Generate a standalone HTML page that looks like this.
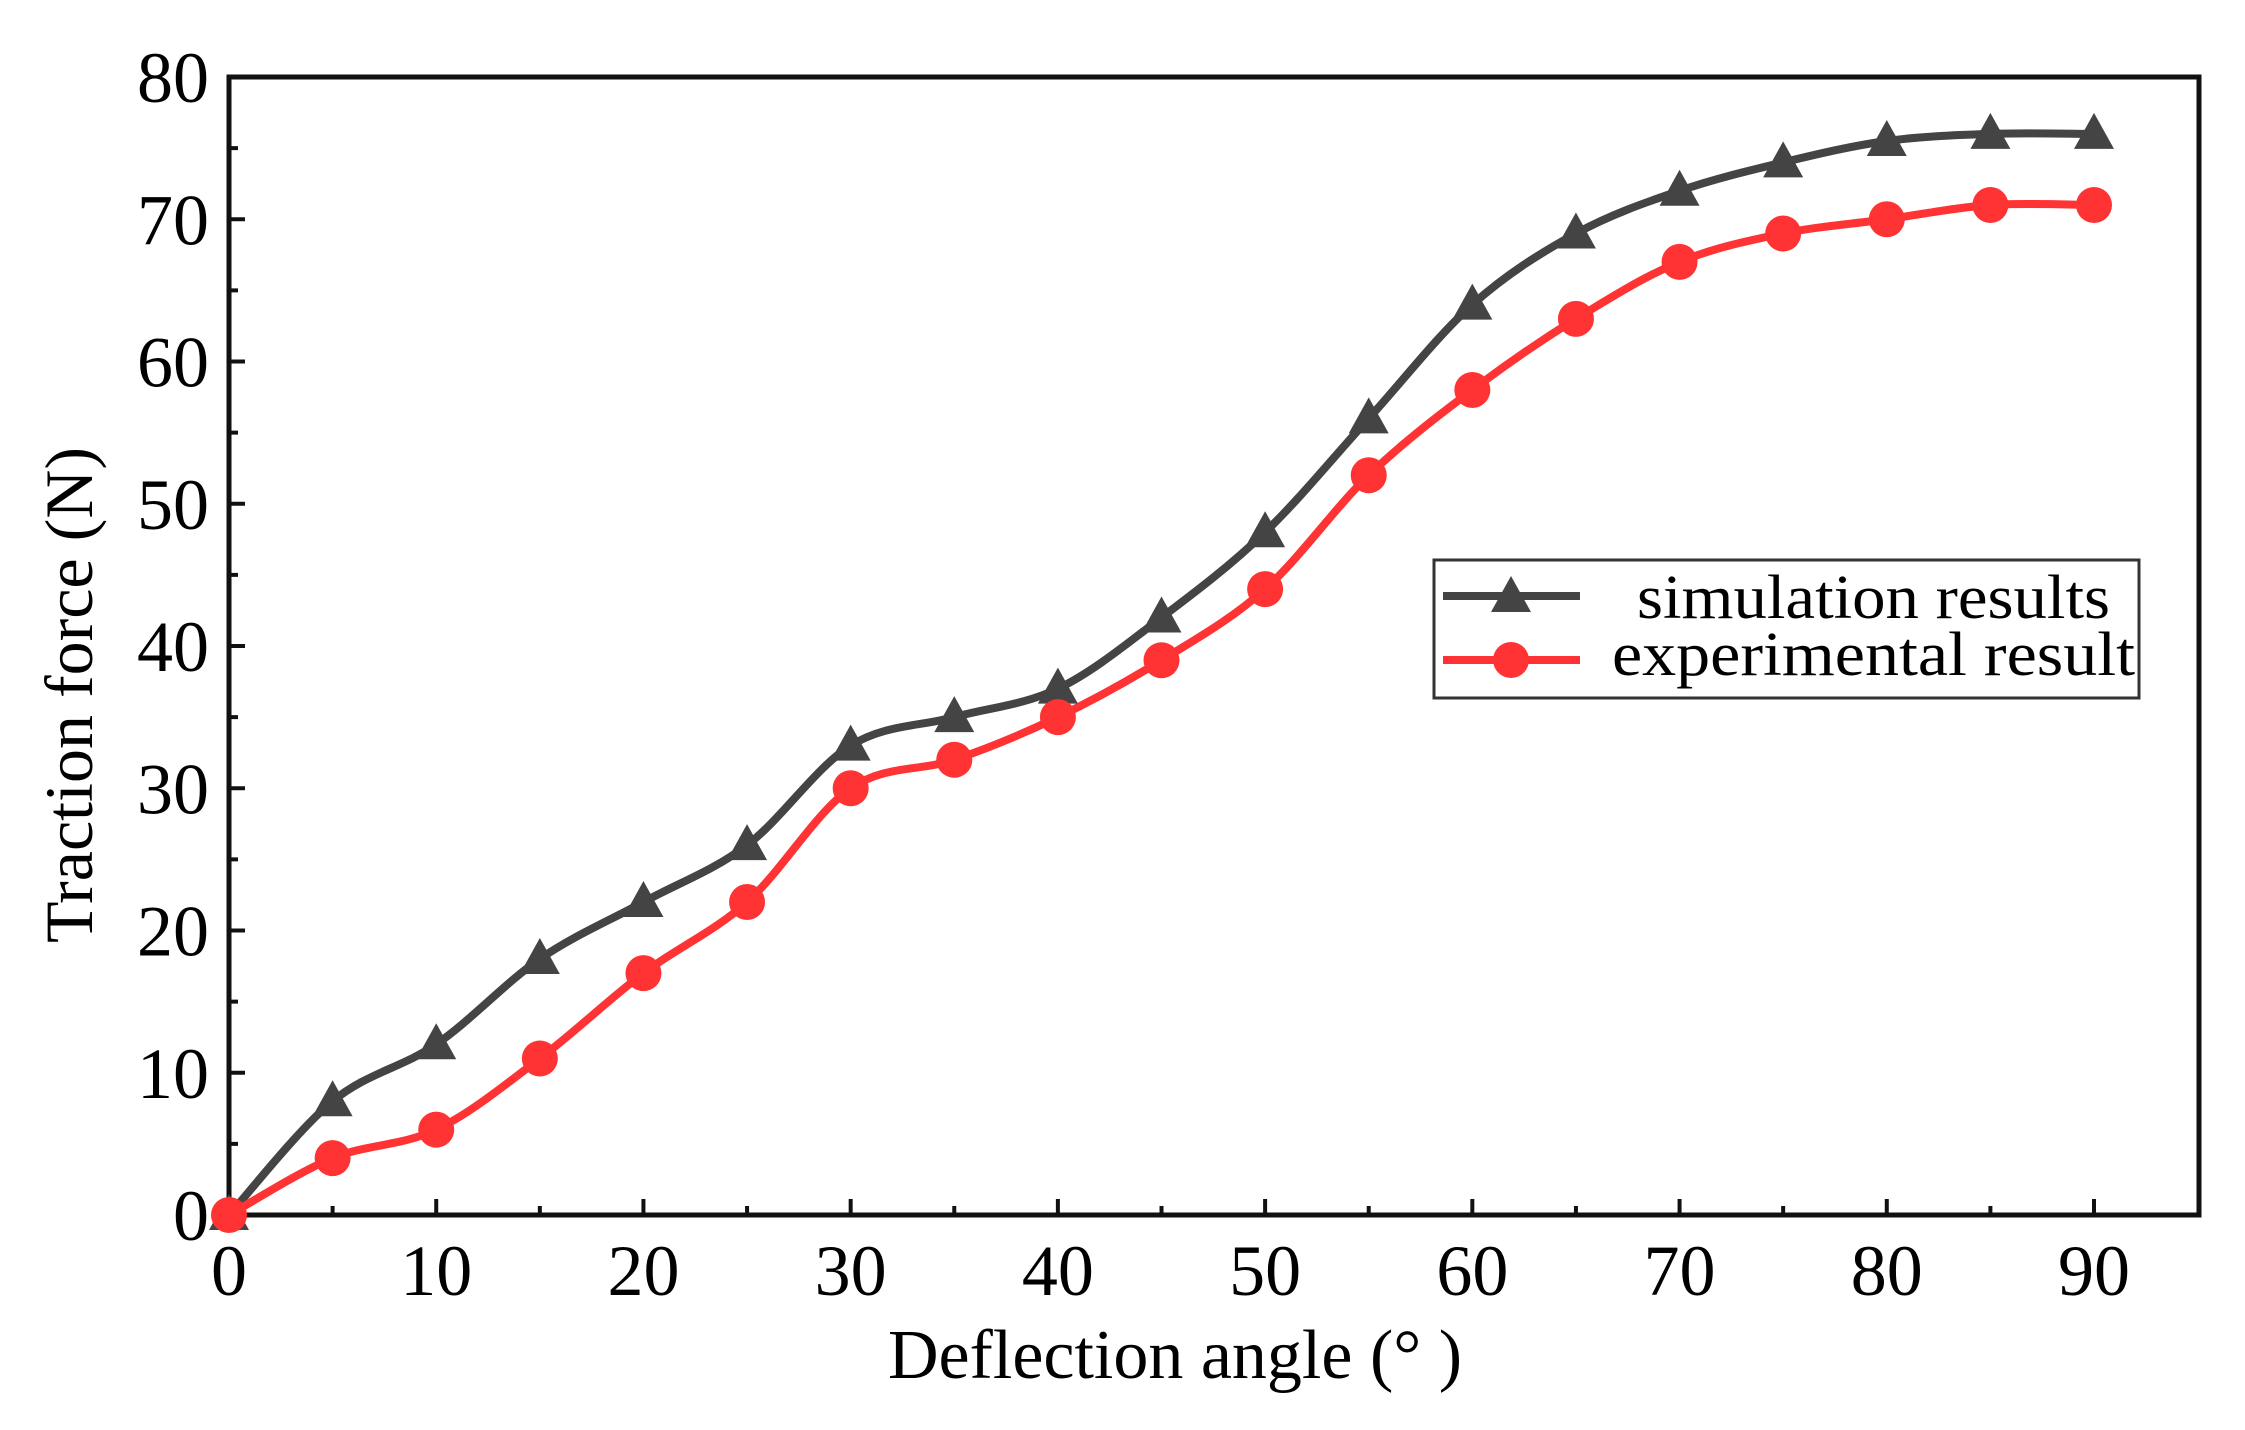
<!DOCTYPE html>
<html><head><meta charset="utf-8"><style>
body{margin:0;background:#fff}
svg{display:block}
text{font-family:"Liberation Serif",serif;fill:#000}
</style></head><body>
<svg id="chart" width="2245" height="1430" viewBox="0 0 2245 1430" xmlns="http://www.w3.org/2000/svg">
<g id="axes"></g>
<g id="series"></g>
<g>
<rect x="1434" y="560" width="705" height="138" fill="#fff" stroke="#333" stroke-width="3"/>
<line x1="1443" y1="596" x2="1580" y2="596" stroke="#444" stroke-width="8"/>
<polygon points="1511,576 1531,612 1491,612" fill="#444"/>
<text x="1637" y="618" font-size="62" textLength="473" lengthAdjust="spacingAndGlyphs">simulation results</text>
<line x1="1443" y1="660" x2="1580" y2="660" stroke="#ff3333" stroke-width="8"/>
<circle cx="1511" cy="660" r="18" fill="#ff3333"/>
<text x="1612" y="675" font-size="62" textLength="523" lengthAdjust="spacingAndGlyphs">experimental result</text>
</g>
<text x="1175" y="1378" font-size="70" text-anchor="middle">Deflection angle (°  )</text>
<text transform="translate(92,695) rotate(-90)" font-size="68" text-anchor="middle">Traction force (N)</text>
</svg>
<script>
const angles=[0,5,10,15,20,25,30,35,40,45,50,55,60,65,70,75,80,85,90];
const simulation=[0,8,12,18,22,26,33,35,37,42,48,56,64,69,72,74,75.5,76,76];
const experimental=[0,4,6,11,17,22,30,32,35,39,44,52,58,63,67,69,70,71,71];
const xTicks=[0,10,20,30,40,50,60,70,80,90];
const yTicks=[0,10,20,30,40,50,60,70,80];
const L=229,R=2199,T=77,B=1215;
const X0=229,X90=2094;
function sx(v){return X0+(X90-X0)*v/90;}
function sy(v){return B-(B-T)*v/80;}
const NS="http://www.w3.org/2000/svg";
function mk(tag,attrs,parent){const e=document.createElementNS(NS,tag);for(const k in attrs)e.setAttribute(k,attrs[k]);parent.appendChild(e);return e;}
const axes=document.getElementById('axes');
const frame=mk('rect',{x:L,y:T,width:R-L,height:B-T,fill:'none',stroke:'#111','stroke-width':5},axes);


for(let v=0;v<=90;v+=5){const maj=v%10===0;const t=mk('line',{x1:sx(v),x2:sx(v),y1:B,y2:B-(maj?16:9),stroke:'#111','stroke-width':4},axes);

}
for(let v=0;v<=80;v+=5){const maj=v%10===0;const t=mk('line',{x1:L,x2:L+(maj?16:9),y1:sy(v),y2:sy(v),stroke:'#111','stroke-width':4},axes);

}
xTicks.forEach(v=>{const t=mk('text',{x:sx(v),y:B+80,'font-size':72,'text-anchor':'middle'},axes);t.textContent=v;

});
yTicks.forEach(v=>{const t=mk('text',{x:L-20,y:sy(v)+25,'font-size':72,'text-anchor':'end'},axes);t.textContent=v;

});
function spline(xs,ys){const p=xs.map((x,i)=>[sx(x),sy(ys[i])]);let d='M'+p[0][0]+','+p[0][1];
for(let i=0;i<p.length-1;i++){const p0=p[Math.max(i-1,0)],p1=p[i],p2=p[i+1],p3=p[Math.min(i+2,p.length-1)];
const c1=[p1[0]+(p2[0]-p0[0])/6,p1[1]+(p2[1]-p0[1])/6],c2=[p2[0]-(p3[0]-p1[0])/6,p2[1]-(p3[1]-p1[1])/6];
d+=' C'+c1+' '+c2+' '+p2;}return d;}
const g=document.getElementById('series');
const ls=mk('path',{d:spline(angles,simulation),fill:'none',stroke:'#444','stroke-width':8},g);


const le=mk('path',{d:spline(angles,experimental),fill:'none',stroke:'#ff3333','stroke-width':8},g);


angles.forEach((a,i)=>{const x=sx(a),y=sy(simulation[i]);
const m=mk('polygon',{points:`${x},${y-21} ${x+20},${y+15} ${x-20},${y+15}`,fill:'#444'},g);

});
angles.forEach((a,i)=>{const c=mk('circle',{cx:sx(a),cy:sy(experimental[i]),r:18,fill:'#ff3333'},g);

});
</script>
</body></html>
